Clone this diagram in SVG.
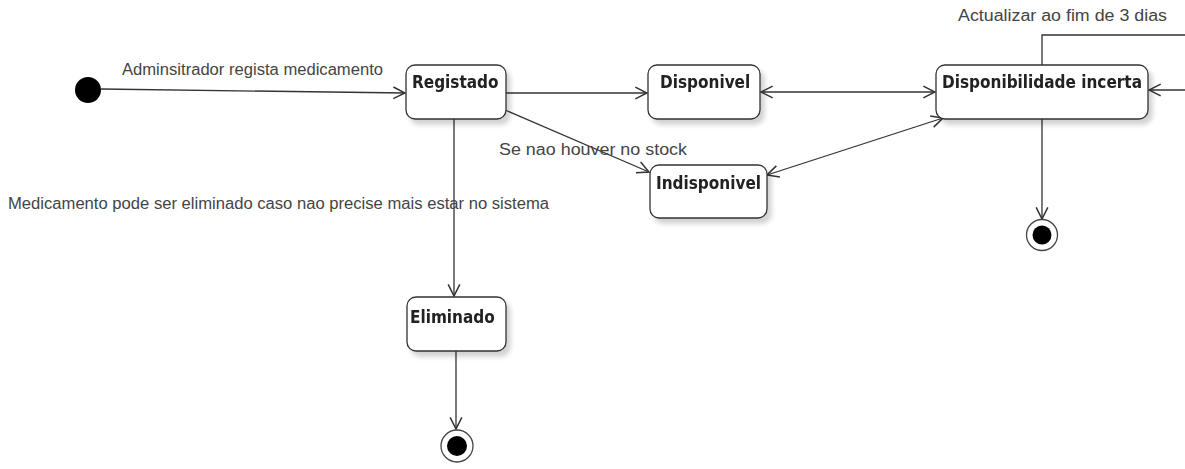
<svg xmlns="http://www.w3.org/2000/svg" width="1185" height="469" viewBox="0 0 1185 469">
  <defs>
    <filter id="sh" x="-10%" y="-10%" width="130%" height="140%">
      <feGaussianBlur in="SourceAlpha" stdDeviation="2.5"/>
      <feOffset dx="4" dy="5" result="b"/>
      <feComponentTransfer><feFuncA type="linear" slope="0.18"/></feComponentTransfer>
      <feMerge><feMergeNode/><feMergeNode in="SourceGraphic"/></feMerge>
    </filter>
    <marker id="arr" markerUnits="userSpaceOnUse" markerWidth="14" markerHeight="14" viewBox="0 0 12 12" refX="11" refY="6" orient="auto-start-reverse">
      <path d="M1,1 L11,6 L1,11" fill="none" stroke="#333" stroke-width="1.3"/>
    </marker>
  </defs>
  <style>
    .st { fill: #fff; stroke: #333; stroke-width: 1.3; }
    .nm { font-family: "DejaVu Sans Condensed", "DejaVu Sans", sans-serif; font-weight: bold; font-size: 17px; fill: #222; }
    .lb { font-family: "Liberation Sans", Arial, sans-serif; font-size: 16px; fill: #444; }
    .e { fill: none; stroke: #333; stroke-width: 1.3; }
  </style>
  <rect width="1185" height="469" fill="#fff"/>

  <g id="connectors">
    <path class="e" d="M101,89 L405,93" marker-end="url(#arr)"/>
    <path class="e" d="M506,93 L647,93" marker-end="url(#arr)"/>
    <path class="e" d="M761,92 L935,92" stroke-width="2" marker-start="url(#arr)" marker-end="url(#arr)"/>
    <path class="e" d="M505,110 L649,172" marker-end="url(#arr)"/>
    <path class="e" d="M767,175 L943,118" marker-start="url(#arr)" marker-end="url(#arr)"/>
    <path class="e" d="M454,119 L454,296" marker-end="url(#arr)"/>
    <path class="e" d="M456,351 L456,429" marker-end="url(#arr)"/>
    <path class="e" d="M1042,118 L1042,219" marker-end="url(#arr)"/>
    <path class="e" d="M1042,65 L1042,35 L1190,35"/>
    <path class="e" d="M1190,90 L1149,90" marker-end="url(#arr)"/>
  </g>

  <g id="labels">
    <text class="lb" x="122" y="75" textLength="261" lengthAdjust="spacingAndGlyphs">Adminsitrador regista medicamento</text>
    <text class="lb" x="499" y="155" textLength="188" lengthAdjust="spacingAndGlyphs">Se nao houver no stock</text>
    <text class="lb" x="8" y="209" textLength="541" lengthAdjust="spacingAndGlyphs">Medicamento pode ser eliminado caso nao precise mais estar no sistema</text>
    <text class="lb" x="958" y="21" textLength="209" lengthAdjust="spacingAndGlyphs">Actualizar ao fim de 3 dias</text>
  </g>

  <g id="initial">
    <circle cx="88" cy="90" r="13" fill="#000"/>
  </g>

  <g id="registado" filter="url(#sh)">
    <rect class="st" x="406" y="65" width="100" height="54" rx="9"/>
    <text class="nm" x="412" y="88">Registado</text>
  </g>

  <g id="disponivel" filter="url(#sh)">
    <rect class="st" x="648" y="65" width="112" height="54" rx="9"/>
    <text class="nm" x="660" y="88">Disponivel</text>
  </g>

  <g id="disp-incerta" filter="url(#sh)">
    <rect class="st" x="936" y="65" width="212" height="54" rx="9"/>
    <text class="nm" x="942" y="88">Disponibilidade incerta</text>
  </g>

  <g id="indisponivel" filter="url(#sh)">
    <rect class="st" x="650" y="165" width="117" height="53" rx="9"/>
    <text class="nm" x="656" y="189">Indisponivel</text>
  </g>

  <g id="eliminado" filter="url(#sh)">
    <rect class="st" x="407" y="297" width="99" height="54" rx="9"/>
    <text class="nm" x="410" y="323">Eliminado</text>
  </g>

  <g id="final1">
    <circle cx="1042" cy="235" r="15.5" fill="#fff" stroke="#444" stroke-width="1.3"/>
    <circle cx="1042" cy="235" r="9.5" fill="#000"/>
  </g>

  <g id="final2">
    <circle cx="457" cy="446" r="16" fill="#fff" stroke="#444" stroke-width="1.3"/>
    <circle cx="457" cy="446" r="10" fill="#000"/>
  </g>
</svg>
